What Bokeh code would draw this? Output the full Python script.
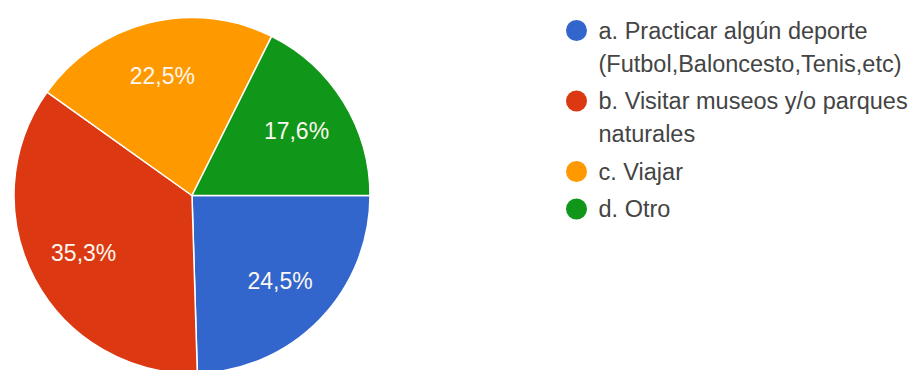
import math
from bokeh.plotting import figure
from bokeh.models import Range1d, ColumnDataSource
from bokeh.core.properties import value
from bokeh.embed import file_html
from bokeh.resources import INLINE

# ---- data ----
categories = ["a. Practicar algún deporte (Futbol,Baloncesto,Tenis,etc)",
              "b. Visitar museos y/o parques naturales",
              "c. Viajar",
              "d. Otro"]
legend_lines = [["a. Practicar algún deporte", "(Futbol,Baloncesto,Tenis,etc)"],
                ["b. Visitar museos y/o parques", "naturales"],
                ["c. Viajar"],
                ["d. Otro"]]
percentages = [24.5, 35.3, 22.5, 17.6]
pct_labels = ["24,5%", "35,3%", "22,5%", "17,6%"]
colors = ["#3366cc", "#dc3912", "#ff9900", "#109618"]

# ---- layout (image pixel coordinates; y data = -image y) ----
W, H = 919, 370
CX, CY, R = 191.5, -195, 178
FONT = "Liberation Sans"

p = figure(width=W, height=H, output_backend="svg", toolbar_location=None,
           x_range=Range1d(0, W), y_range=Range1d(-H, 0),
           min_border=0)
p.axis.visible = False
p.grid.visible = False
p.outline_line_color = None
p.background_fill_color = "white"
p.border_fill_color = "white"

total = sum(percentages)
starts, ends, lx, ly = [], [], [], []
a = 0.0
for v in percentages:
    sweep = v / total * 2 * math.pi
    s, e = a - sweep, a
    starts.append(s)
    ends.append(e)
    mid = (s + e) / 2
    lx.append(CX + 0.69 * R * math.cos(mid))
    ly.append(CY + 0.69 * R * math.sin(mid))
    a -= sweep

src = ColumnDataSource(dict(start=starts, end=ends, color=colors,
                            lx=lx, ly=ly, label=pct_labels))
p.wedge(x=CX, y=CY, radius=R, start_angle="start", end_angle="end",
        fill_color="color", line_color="white", line_width=1.5, source=src)
p.text(x="lx", y="ly", text="label", source=src, text_color="#fbf7f0",
       text_font=value(FONT), text_font_size="23px", text_align="center",
       text_baseline="middle")

# legend
LX_DOT, LX_TXT = 576, 598
y = -30.0
dot_x, dot_y, dot_c = [], [], []
tx, ty, tt = [], [], []
for lines, c in zip(legend_lines, colors):
    dot_x.append(LX_DOT); dot_y.append(y); dot_c.append(c)
    for i, ln in enumerate(lines):
        tx.append(LX_TXT); ty.append(y - 33 * i); tt.append(ln)
    y -= 33 * (len(lines) - 1) + 37.5

p.scatter(x=dot_x, y=dot_y, size=21, marker="circle", fill_color=dot_c, line_color=None)
p.text(x=tx, y=ty, text=tt, text_color="#444444", text_font=value(FONT),
       text_font_size="23.5px", text_align="left", text_baseline="middle")

open("out.html", "w").write(file_html(p, INLINE))
